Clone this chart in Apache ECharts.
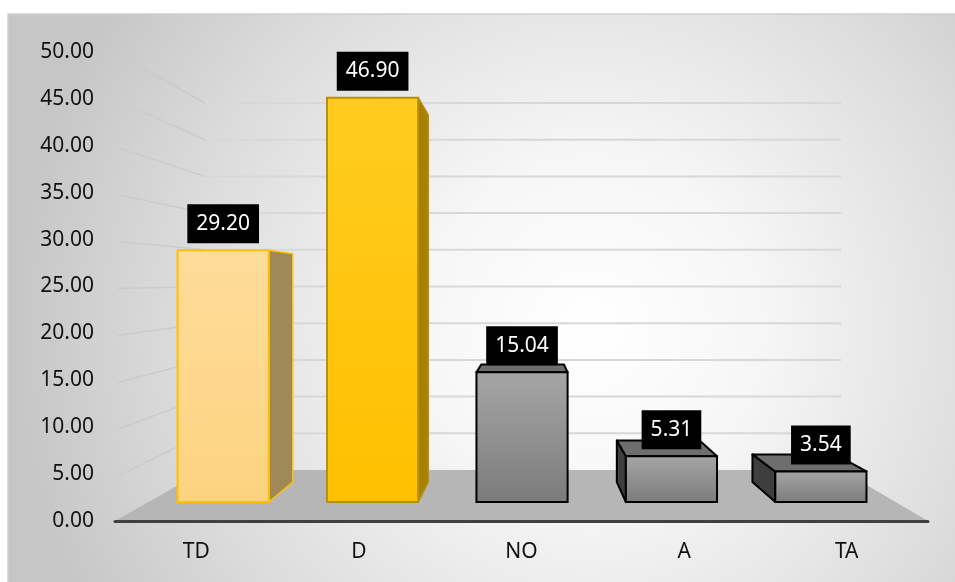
<!DOCTYPE html>
<html>
<head>
<meta charset="utf-8">
<script src="https://cdn.jsdelivr.net/npm/echarts@6/dist/echarts.min.js"></script>
<style>html,body{margin:0;padding:0;background:#fff;}#c{width:955px;height:582px;}</style>
</head>
<body>
<div id="c"></div>
<script>
// ---- data ----
const categories = ['TD', 'D', 'NO', 'A', 'TA'];
const values = [29.20, 46.90, 15.04, 5.31, 3.54];
const yTicks = [0, 5, 10, 15, 20, 25, 30, 35, 40, 45, 50];

// ---- styles ----
const FONT = 'Noto Sans';
const barStyles = [
  { front: ['#FEDC9A', '#FCD380'], side: '#9F8958', top: '#E8C070', stroke: '#FFC000', sideStroke: '#FFC000' },
  { front: ['#FFCC1F', '#FFC000'], side: '#A88000', top: '#D9A400', stroke: '#B8900A', sideStroke: '#B8900A' },
  { front: ['#A6A6A6', '#7B7B7B'], side: '#3E3E3E', top: '#6E6E6E', stroke: '#000', sideStroke: '#000' },
  { front: ['#A6A6A6', '#7B7B7B'], side: '#3E3E3E', top: '#6E6E6E', stroke: '#000', sideStroke: '#000' },
  { front: ['#A6A6A6', '#7B7B7B'], side: '#3E3E3E', top: '#6E6E6E', stroke: '#000', sideStroke: '#000' }
];
const F_FLOOR_BACK = 0.7825, F_BAR_FRONT = 0.919, F_BAR_BACK = 0.834;
const VP_VALUE = 25, VP_SHIFT = 0.04;

function vanishing(api) {
  const band = api.size([1, 0])[0];
  const p = api.coord([2, VP_VALUE]);
  return [p[0] + band * VP_SHIFT, p[1]];
}
function proj(vp, x, y, f) {
  return [vp[0] + (x - vp[0]) * f, vp[1] + (y - vp[1]) * f];
}

const chart = echarts.init(document.getElementById('c'), null, { renderer: 'canvas' });

const roomData = [[0, 0]];
const barData = values.map((v, i) => [i, v]);

chart.setOption({
  backgroundColor: '#ffffff',
  animation: false,
  graphic: [{
    type: 'rect', z: -100, silent: true,
    shape: { x: 8, y: 14, width: 960, height: 590 },
    style: {
      fill: new echarts.graphic.RadialGradient(590, 330, 580, [
        { offset: 0, color: '#ffffff' },
        { offset: 0.3, color: '#f6f6f6' },
        { offset: 0.7, color: '#dcdcdc' },
        { offset: 1, color: '#c6c6c6' }
      ], true),
      stroke: '#cfcfcf', lineWidth: 1.5
    }
  }],
  grid: { left: 115, right: 27, top: 52, bottom: 61, containLabel: false },
  xAxis: {
    type: 'category',
    data: categories,
    axisLine: { show: true, lineStyle: { color: '#404040', width: 3 } },
    axisTick: { show: false },
    axisLabel: { fontFamily: FONT, fontSize: 21, color: '#111', margin: 21 },
    splitLine: { show: false },
    z: 5
  },
  yAxis: {
    type: 'value',
    min: yTicks[0], max: yTicks[yTicks.length - 1], interval: yTicks[1] - yTicks[0],
    axisLine: { show: false },
    axisTick: { show: false },
    splitLine: { show: false },
    axisLabel: { fontFamily: FONT, fontSize: 21, color: '#111', margin: 21,
      formatter: v => v.toFixed(2) }
  },
  series: [
    {
      type: 'custom',
      z: 1,
      silent: true,
      data: roomData,
      renderItem: function (params, api) {
        const cs = params.coordSys;
        const vp = vanishing(api);
        const L = cs.x, R = cs.x + cs.width;
        const y0 = api.coord([0, 0])[1];
        const children = [];
        children.push({
          type: 'polygon',
          shape: { points: [proj(vp, L, y0, 1), proj(vp, R, y0, 1), proj(vp, R, y0, F_FLOOR_BACK), proj(vp, L, y0, F_FLOOR_BACK)] },
          style: { fill: '#b6b6b6' }
        });
        yTicks.forEach(t => {
          if (t === 0) return;
          const yv = api.coord([0, t])[1];
          const a = proj(vp, L, yv, F_FLOOR_BACK), b = proj(vp, R, yv, F_FLOOR_BACK);
          const c = proj(vp, L, yv, 1);
          children.push({ type: 'line', shape: { x1: a[0], y1: a[1], x2: b[0], y2: b[1] },
            style: { stroke: '#d8d8d8', lineWidth: 2 } });
          children.push({ type: 'line', shape: { x1: c[0] + 3, y1: c[1] + 2, x2: a[0], y2: a[1] },
            style: { stroke: '#cbcbcb', lineWidth: 1.5 } });
        });
        return { type: 'group', children: children };
      }
    },
    {
      type: 'custom',
      z: 3,
      data: barData,
      renderItem: function (params, api) {
        const i = api.value(0), v = api.value(1);
        const st = barStyles[i];
        const vp = vanishing(api);
        const band = api.size([1, 0])[0];
        const c = api.coord([i, 0]);
        const t = api.coord([i, v]);
        const hw = band * 0.305;
        const xl = c[0] - hw, xr = c[0] + hw, yb = c[1], yt = t[1];
        const ff = F_BAR_FRONT, fk = F_BAR_BACK;
        const children = [];
        if (xr < vp[0]) {
          children.push({ type: 'polygon',
            shape: { points: [proj(vp, xr, yt, ff), proj(vp, xr, yt, fk), proj(vp, xr, yb, fk), proj(vp, xr, yb, ff)] },
            style: { fill: st.side, stroke: st.sideStroke, lineWidth: 1.5, lineJoin: 'round' } });
        }
        if (xl > vp[0]) {
          children.push({ type: 'polygon',
            shape: { points: [proj(vp, xl, yt, ff), proj(vp, xl, yt, fk), proj(vp, xl, yb, fk), proj(vp, xl, yb, ff)] },
            style: { fill: st.side, stroke: st.sideStroke, lineWidth: 2, lineJoin: 'round' } });
        }
        if (yt > vp[1]) {
          children.push({ type: 'polygon',
            shape: { points: [proj(vp, xl, yt, ff), proj(vp, xr, yt, ff), proj(vp, xr, yt, fk), proj(vp, xl, yt, fk)] },
            style: { fill: st.top, stroke: st.sideStroke, lineWidth: 2, lineJoin: 'round' } });
        }
        const p1 = proj(vp, xl, yt, ff), p2 = proj(vp, xr, yb, ff);
        children.push({ type: 'rect',
          shape: { x: p1[0], y: p1[1], width: p2[0] - p1[0], height: p2[1] - p1[1] },
          style: {
            fill: new echarts.graphic.LinearGradient(0, 0, 0, 1, [
              { offset: 0, color: st.front[0] }, { offset: 1, color: st.front[1] }]),
            stroke: st.stroke, lineWidth: 2
          } });
        const tc = proj(vp, c[0], yt, ff);
        children.push({ type: 'text', z2: 10,
          x: tc[0], y: tc[1] - 7,
          style: {
            text: v.toFixed(2), fill: '#ffffff', font: '21px "' + FONT + '"',
            align: 'center', verticalAlign: 'bottom',
            backgroundColor: '#000000', padding: [9, 9, 9, 9], lineHeight: 21
          } });
        return { type: 'group', children: children };
      }
    }
  ]
});
</script>
</body>
</html>
